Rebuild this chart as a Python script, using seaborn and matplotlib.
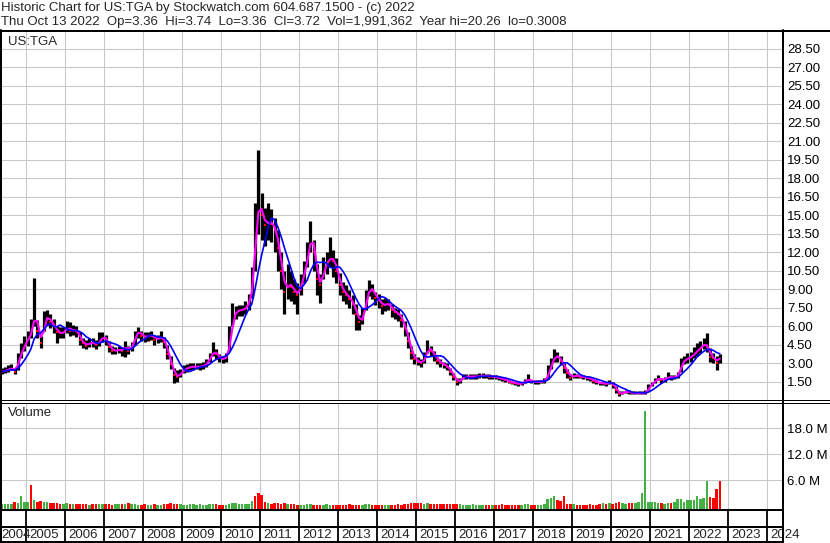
import numpy as np
import pandas as pd
import seaborn as sns
import matplotlib.pyplot as plt
from matplotlib.lines import Line2D

sns.set_theme(style="white")
plt.rcParams["font.family"] = ["Liberation Sans", "DejaVu Sans"]

# monthly readings, May 2004 .. Oct 2022
months = pd.period_range("2004-05", "2022-10", freq="M")

close = [
    2.3, 2.4, 2.5, 2.6, 2.3, 3.3, 4.0, 4.6,                          # 2004
    5.0, 5.6, 7.2, 5.6, 4.6, 6.5, 6.8, 6.3, 6.0, 5.5, 5.4, 5.5,      # 2005
    6.0, 5.6, 5.7, 5.6, 4.9, 4.6, 4.4, 4.7, 4.6, 4.5, 4.8, 5.2,      # 2006
    4.9, 4.3, 4.0, 4.0, 4.1, 4.0, 4.4, 4.0, 4.4, 5.3, 5.6, 5.2,      # 2007
    5.1, 5.2, 5.3, 4.9, 5.0, 5.1, 4.7, 3.7, 2.9, 2.0, 1.9, 2.2,      # 2008
    2.5, 2.6, 2.7, 2.7, 2.7, 2.7, 2.8, 3.0, 3.5, 4.0, 3.7, 3.4,      # 2009
    3.3, 3.5, 4.8, 6.8, 7.2, 7.3, 7.3, 7.5, 8.0, 9.5, 14.5, 16.0,    # 2010
    15.0, 14.2, 14.5, 14.3, 13.8, 12.3, 10.5, 8.8, 9.5, 9.2, 8.8, 8.5,   # 2011
    9.5, 10.5, 11.8, 13.5, 12.0, 9.8, 9.3, 10.8, 11.2, 11.6, 11.3, 10.5, # 2012
    9.3, 8.8, 8.5, 8.2, 7.8, 7.0, 6.3, 6.7, 8.3, 9.1, 8.9, 8.3,      # 2013
    8.1, 7.6, 7.8, 7.8, 7.3, 7.1, 7.0, 6.5, 5.8, 4.8, 3.8, 3.3,      # 2014
    3.1, 3.0, 3.4, 4.3, 4.0, 3.6, 3.2, 3.0, 2.85, 2.7, 2.3, 1.9,     # 2015
    1.45, 1.6, 1.9, 1.9, 1.9, 1.9, 1.9, 1.95, 2.0, 1.95, 1.9, 1.9,   # 2016
    1.85, 1.75, 1.7, 1.6, 1.5, 1.4, 1.35, 1.3, 1.35, 1.55, 1.7, 1.5, # 2017
    1.45, 1.45, 1.5, 1.55, 2.2, 3.0, 3.6, 3.5, 3.2, 2.6, 2.2, 1.8,   # 2018
    2.0, 1.95, 1.9, 1.85, 1.8, 1.7, 1.55, 1.45, 1.35, 1.35, 1.3, 1.45,   # 2019
    1.25, 0.8, 0.45, 0.6, 0.7, 0.65, 0.55, 0.55, 0.55, 0.55, 0.55, 1.1,  # 2020
    1.35, 1.6, 1.8, 1.6, 1.7, 1.9, 1.8, 1.85, 2.0, 3.0, 3.25, 3.4,   # 2021
    3.5, 3.8, 4.05, 4.3, 4.6, 4.3, 3.5, 3.4, 3.0, 3.72,              # 2022
]

high = [
    2.6, 2.7, 2.8, 2.9, 2.6, 3.8, 4.6, 5.2,
    5.6, 6.6, 9.9, 6.5, 5.2, 7.2, 7.3, 7.0, 6.6, 6.0, 5.9, 5.9,
    6.4, 6.3, 6.1, 6.0, 5.5, 5.0, 4.9, 5.0, 5.0, 4.9, 5.5, 5.5,
    5.3, 4.8, 4.4, 4.3, 4.4, 4.3, 4.8, 4.4, 4.7, 5.6, 5.9, 5.6,
    5.5, 5.5, 5.6, 5.3, 5.3, 5.6, 5.1, 4.5, 3.6, 2.6, 2.4, 2.5,
    2.8, 2.9, 3.0, 3.0, 3.0, 3.0, 3.1, 3.3, 3.8, 4.7, 4.1, 3.7,
    3.6, 3.8, 6.0, 7.9, 7.6, 7.7, 7.7, 8.0, 8.6, 10.8, 16.0, 20.3,
    16.8, 15.6, 16.0, 15.5, 14.8, 13.8, 12.0, 10.5, 11.0, 10.5, 9.8, 9.5,
    10.2, 11.3, 12.8, 14.5, 13.0, 11.0, 10.2, 11.6, 12.0, 13.2, 12.2, 11.5,
    10.3, 9.6, 9.3, 8.9, 8.5, 7.8, 6.9, 7.5, 8.9, 9.7, 9.4, 8.8,
    8.6, 8.2, 8.3, 8.2, 7.8, 7.5, 7.4, 7.0, 6.4, 5.5, 4.4, 3.7,
    3.5, 3.3, 3.9, 4.9, 4.4, 4.0, 3.5, 3.3, 3.1, 3.0, 2.6, 2.2,
    1.8, 1.8, 2.1, 2.1, 2.1, 2.1, 2.1, 2.2, 2.2, 2.1, 2.1, 2.0,
    2.0, 1.9, 1.85, 1.75, 1.65, 1.55, 1.5, 1.45, 1.5, 1.7, 2.1, 1.65,
    1.6, 1.6, 1.65, 1.8, 2.8, 3.4, 4.1, 3.9, 3.6, 3.0, 2.5, 2.1,
    2.2, 2.1, 2.05, 2.0, 1.95, 1.85, 1.7, 1.6, 1.5, 1.5, 1.45, 1.6,
    1.5, 1.1, 0.7, 0.75, 0.8, 0.8, 0.7, 0.7, 0.7, 0.7, 0.8, 1.3,
    1.5, 1.8, 2.0, 1.8, 1.9, 2.3, 2.0, 2.0, 2.3, 3.4, 3.6, 3.8,
    3.9, 4.3, 4.6, 4.8, 5.0, 5.4, 4.2, 3.8, 3.6, 3.74,
]

low = [
    2.1, 2.2, 2.3, 2.4, 2.1, 2.4, 3.4, 4.0,
    4.4, 5.0, 6.0, 5.0, 4.2, 5.6, 6.1, 5.8, 5.4, 4.6, 5.0, 5.0,
    5.4, 5.2, 5.3, 5.1, 4.5, 4.2, 4.1, 4.3, 4.3, 4.1, 4.4, 4.7,
    4.5, 3.9, 3.7, 3.7, 3.8, 3.6, 3.5, 3.7, 4.0, 4.5, 5.0, 4.8,
    4.7, 4.8, 4.9, 4.5, 4.6, 4.7, 4.2, 3.3, 2.5, 1.4, 1.5, 1.9,
    2.2, 2.3, 2.4, 2.4, 2.5, 2.4, 2.5, 2.7, 3.1, 3.6, 3.3, 3.1,
    3.0, 3.1, 4.0, 6.0, 6.6, 6.8, 6.8, 7.0, 7.3, 8.3, 10.5, 13.5,
    13.0, 12.5, 13.0, 12.8, 12.0, 10.5, 9.0, 7.0, 8.2, 8.0, 7.8, 7.0,
    8.5, 9.5, 10.8, 12.0, 10.5, 8.5, 7.9, 9.8, 10.2, 10.8, 10.0, 9.5,
    8.5, 8.0, 7.8, 7.5, 7.0, 5.7, 5.7, 6.2, 7.3, 8.4, 8.2, 7.7,
    7.5, 7.0, 7.2, 7.3, 6.7, 6.6, 6.4, 5.9, 5.2, 4.2, 3.3, 2.9,
    2.8, 2.7, 3.0, 3.8, 3.6, 3.2, 2.9, 2.7, 2.6, 2.4, 2.0, 1.6,
    1.2, 1.4, 1.7, 1.7, 1.7, 1.7, 1.7, 1.8, 1.8, 1.8, 1.7, 1.7,
    1.7, 1.6, 1.55, 1.45, 1.35, 1.3, 1.2, 1.15, 1.2, 1.4, 1.5, 1.35,
    1.3, 1.3, 1.35, 1.4, 1.7, 2.5, 3.1, 3.1, 2.8, 2.2, 1.8, 1.6,
    1.8, 1.8, 1.75, 1.7, 1.65, 1.55, 1.4, 1.3, 1.2, 1.2, 1.15, 1.3,
    1.0, 0.6, 0.3, 0.45, 0.55, 0.5, 0.45, 0.45, 0.45, 0.45, 0.45, 0.8,
    1.1, 1.4, 1.6, 1.4, 1.5, 1.7, 1.6, 1.7, 1.8, 2.3, 2.9, 3.0,
    3.1, 3.4, 3.6, 3.8, 4.1, 3.9, 3.1, 3.0, 2.4, 3.0,
]

# volume in millions (tallest daily bar seen in each month)
volume = [
    0.5, 0.5, 0.4, 0.5, 0.9, 0.6, 2.3, 0.9,
    1.0, 4.8, 1.5, 1.0, 1.1, 1.0, 0.9, 0.8, 0.7, 0.6, 0.5, 0.5,
    0.6, 0.5, 0.5, 0.4, 0.4, 0.4, 0.4, 0.3, 0.4, 0.5, 0.5, 0.4,
    0.4, 0.4, 0.3, 0.4, 0.4, 0.4, 0.5, 0.6, 0.4, 0.4, 0.3, 0.3,
    0.4, 0.3, 0.3, 0.4, 0.3, 0.3, 0.4, 0.5, 0.7, 0.5, 0.4, 0.4,
    0.3, 0.3, 0.5, 0.4, 0.3, 0.4, 0.3, 0.3, 0.4, 0.5, 0.4, 0.3,
    0.3, 0.3, 0.5, 0.6, 0.7, 0.5, 0.4, 0.4, 0.5, 1.1, 2.2, 2.9,
    2.5, 0.9, 0.6, 0.5, 0.8, 0.6, 0.4, 0.8, 0.5, 0.4, 0.4, 0.3,
    0.3, 0.3, 0.4, 0.4, 0.3, 0.3, 0.3, 0.3, 0.4, 0.3, 0.3, 0.3,
    0.3, 0.3, 0.3, 0.4, 0.3, 0.3, 0.3, 0.3, 0.4, 0.5, 0.3, 0.3,
    0.3, 0.3, 0.3, 0.3, 0.3, 0.3, 0.4, 0.3, 0.4, 0.5, 0.6, 0.7,
    0.6, 0.6, 0.5, 0.7, 0.5, 0.4, 0.4, 0.4, 0.4, 0.5, 0.4, 0.5,
    0.4, 0.4, 0.3, 0.3, 0.3, 0.4, 0.3, 0.3, 0.3, 0.3, 0.3, 0.3,
    0.3, 0.3, 0.4, 0.3, 0.3, 0.3, 0.3, 0.3, 0.3, 0.4, 0.5, 0.3,
    0.3, 0.3, 0.3, 0.5, 1.7, 1.9, 2.3, 1.3, 1.1, 2.3, 0.5, 0.4,
    0.4, 0.3, 0.3, 0.3, 0.3, 0.4, 0.3, 0.3, 0.4, 0.6, 0.5, 0.8,
    0.5, 0.7, 0.9, 0.6, 0.5, 0.6, 0.7, 0.6, 1.0, 2.9, 22.0, 1.0,
    1.0, 0.9, 0.7, 0.6, 0.5, 0.7, 0.6, 0.9, 1.7, 1.7, 1.0, 1.5,
    1.3, 1.5, 2.3, 1.6, 1.8, 5.8, 2.0, 1.8, 4.0, 5.8,
]
# months whose tallest volume bar is drawn red / green regardless of the monthly close
volume_red_months = ["2005-02", "2010-11", "2010-12", "2022-10"]
volume_green_months = ["2022-06"]

price_ticks = [1.5, 3.0, 4.5, 6.0, 7.5, 9.0, 10.5, 12.0, 13.5, 15.0, 16.5, 18.0, 19.5,
               21.0, 22.5, 24.0, 25.5, 27.0, 28.5]
volume_ticks = [6.0, 12.0, 18.0]
years = list(range(2004, 2025))

title1 = "Historic Chart for US:TGA by Stockwatch.com 604.687.1500 - (c) 2022"
title2 = ("Thu Oct 13 2022  Op=3.36  Hi=3.74  Lo=3.36  Cl=3.72  Vol=1,991,362  "
          "Year hi=20.26  lo=0.3008")

df = pd.DataFrame({
    "month": months.astype(str),
    "t": months.year + (months.month - 0.5) / 12,
    "close": close, "high": high, "low": low, "volume": volume,
})
df["ma_short"] = df["close"].rolling(2, min_periods=1).mean()
df["ma_long"] = df["close"].rolling(6, min_periods=1).mean()
df["down"] = df["close"].diff().fillna(0) < 0
df["vol_down"] = (df["down"] | df["month"].isin(volume_red_months)) & ~df["month"].isin(volume_green_months)

W, H = 830, 543
FS = 9.5
fig = plt.figure(figsize=(W / 100, H / 100), dpi=100)


def rect(x0, y0, x1, y1):
    return [x0 / W, 1 - y1 / H, (x1 - x0) / W, (y1 - y0) / H]


def hline(y, x0, x1, lw=1.0):
    fig.add_artist(Line2D([x0 / W, x1 / W], [1 - y / H, 1 - y / H], color="black",
                          lw=lw * 0.72, transform=fig.transFigure))


def vline(x, y0, y1, lw=1.0):
    fig.add_artist(Line2D([x / W, x / W], [1 - y0 / H, 1 - y1 / H], color="black",
                          lw=lw * 0.72, transform=fig.transFigure))


XLIM = (2004.359, 2024.385)
GRID = "#c8c8c8"

# price panel
ax = fig.add_axes(rect(1, 31, 782, 400))
ax.vlines(df["t"], df["low"], df["high"], color="black", lw=2.3)
dn = df[df["down"]]
ax.plot(dn["t"], dn["close"], ls="none", marker="s", ms=2.0, color="red", mew=0)
sns.lineplot(data=df, x="t", y="ma_short", color="#ff00ff", lw=1.5, ax=ax)
sns.lineplot(data=df, x="t", y="ma_long", color="#0000ff", lw=1.2, ax=ax)
ax.set_xlim(*XLIM)
ax.set_ylim(0, 29.93)
ax.set_xticks(years[1:])
ax.set_yticks(price_ticks)
ax.set_yticklabels([f"{v:.2f}" for v in price_ticks])
ax.yaxis.tick_right()
ax.tick_params(axis="x", length=0, labelbottom=False)
ax.tick_params(axis="y", length=0, pad=3.6, labelsize=FS, labelcolor="black")
ax.grid(True, color=GRID, lw=0.75)
ax.set_axisbelow(True)
ax.set(xlabel="", ylabel="")
for s in ax.spines.values():
    s.set_visible(False)

# volume panel
vlo, vhi = -0.69, 23.77
ax2 = fig.add_axes(rect(1, 403, 782, 509))
colors = np.where(df["vol_down"], "#ff0000", "#44b044")
ax2.bar(df["t"], df["volume"] - vlo, bottom=vlo, width=0.8 / 12, color=colors, lw=0)
ax2.set_xlim(*XLIM)
ax2.set_ylim(vlo, vhi)
ax2.set_xticks(years[1:])
ax2.set_yticks(volume_ticks)
ax2.set_yticklabels([f"{v:.1f} M" for v in volume_ticks])
ax2.yaxis.tick_right()
ax2.tick_params(axis="x", length=0, labelbottom=False)
ax2.tick_params(axis="y", length=0, pad=3.6, labelsize=FS, labelcolor="black")
ax2.grid(True, color=GRID, lw=0.75)
ax2.set_axisbelow(True)
for s in ax2.spines.values():
    s.set_visible(False)

# year strip
ax3 = fig.add_axes(rect(1, 510, 782, 542))
ax3.set_xlim(*XLIM)
ax3.set_ylim(0, 1)
ax3.axis("off")
for y in years[1:]:
    ax3.axvline(y, color="black", lw=1.3)
for y in years:
    xpos = y + 0.09 if y > XLIM[0] else XLIM[0]
    ax3.text(xpos, 0.22, str(y), fontsize=FS, va="center", ha="left", clip_on=False)

# frame lines
hline(30.5, 0, W, 2)
vline(1, 30, 542, 2)
vline(782.5, 30, H, 2)
hline(400, 0, W, 1)
hline(402.5, 0, W, 1)
hline(510, 0, 782, 2)
hline(527, 0, 782, 2)
hline(542, 0, 782, 2)

fig.text(1 / W, 1 - 8 / H, title1, fontsize=FS, va="center")
fig.text(1 / W, 1 - 22 / H, title2, fontsize=FS, va="center")
fig.text(8 / W, 1 - 42 / H, "US:TGA", fontsize=FS, va="center")
fig.text(8 / W, 1 - 413 / H, "Volume", fontsize=FS, va="center")

fig.savefig("out.png", dpi=100)
